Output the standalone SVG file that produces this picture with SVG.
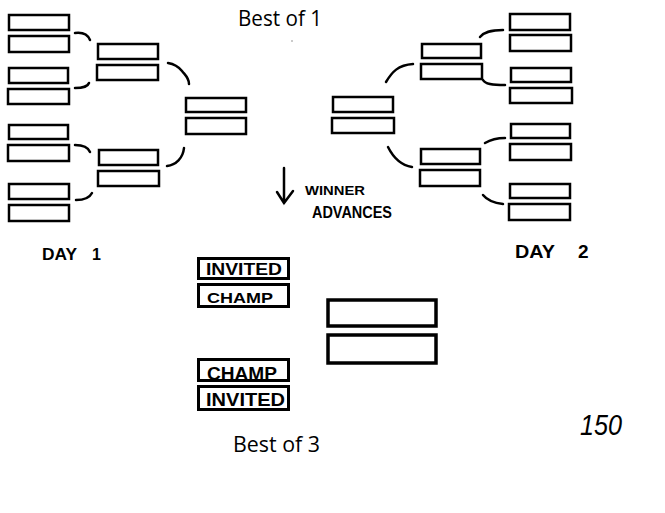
<svg xmlns="http://www.w3.org/2000/svg" width="665" height="513" viewBox="0 0 665 513">
<style>
.b{fill:#fff;stroke:#000;stroke-width:2.5}
.bb{fill:#fff;stroke:#000;stroke-width:3}
.big{fill:#fff;stroke:#000;stroke-width:3.5}
.c{fill:none;stroke:#000;stroke-width:2.5;stroke-linecap:round}
.t{font-family:"Open Sans","Liberation Sans",sans-serif;font-size:21px;fill:#000}
.h{font-family:"Liberation Sans",sans-serif;font-weight:bold;fill:#000}
</style>
<rect width="665" height="513" fill="#fff"/>
<g id="day1-round1">
<rect class="b" x="9" y="15" width="60" height="15"/>
<rect class="b" x="9" y="36" width="60" height="16"/>
<rect class="b" x="9" y="68" width="59" height="15"/>
<rect class="b" x="8" y="89" width="61" height="15"/>
<rect class="b" x="9" y="125" width="59" height="14"/>
<rect class="b" x="8" y="145" width="61" height="16"/>
<rect class="b" x="9" y="184" width="60" height="15"/>
<rect class="b" x="9" y="205" width="60" height="16"/>
</g>
<g id="day1-round2">
<rect class="b" x="98" y="44" width="60" height="15"/>
<rect class="b" x="97" y="65" width="61" height="15"/>
<rect class="b" x="99" y="150" width="59" height="15"/>
<rect class="b" x="98" y="171" width="61" height="15"/>
</g>
<g id="day1-final">
<rect class="b" x="186" y="98" width="60" height="14"/>
<rect class="b" x="186" y="118" width="60" height="16"/>
</g>
<g id="day2-round1">
<rect class="b" x="510" y="14" width="60" height="16"/>
<rect class="b" x="510" y="35" width="61" height="16"/>
<rect class="b" x="511" y="68" width="60" height="14"/>
<rect class="b" x="510" y="88" width="62" height="15"/>
<rect class="b" x="511" y="124" width="59" height="14"/>
<rect class="b" x="510" y="144" width="61" height="16"/>
<rect class="b" x="510" y="184" width="60" height="14"/>
<rect class="b" x="509" y="204" width="61" height="16"/>
</g>
<g id="day2-round2">
<rect class="b" x="422" y="44" width="59" height="14"/>
<rect class="b" x="421" y="64" width="61" height="15"/>
<rect class="b" x="421" y="149" width="59" height="15"/>
<rect class="b" x="420" y="170" width="60" height="16"/>
</g>
<g id="day2-final">
<rect class="b" x="333" y="97" width="60" height="15"/>
<rect class="b" x="332" y="118" width="62" height="15"/>
</g>
<g id="connectors">
<path class="c" d="M75,33 C83,32 88,35 90,40"/>
<path class="c" d="M75,88 C84,88 88,86 89,83"/>
<path class="c" d="M75,145 C83,145 88,147 90,152"/>
<path class="c" d="M76,200 C85,200 90,197 92,193"/>
<path class="c" d="M168,63 C174,64 178,66 182,71 C186,76 189,78 189,84"/>
<path class="c" d="M184,148 C183,158 176,165 167,166"/>
<path class="c" d="M480,37 C484,32 490,30 503,30"/>
<path class="c" d="M483,80 C485,84 492,85 505,85"/>
<path class="c" d="M485,143 C490,140 497,138 505,138"/>
<path class="c" d="M483,195 C487,200 494,203 503,204"/>
<path class="c" d="M386,82 C392,72 398,65 413,64"/>
<path class="c" d="M388,147 C393,157 400,165 412,167"/>
<path class="c" d="M284,168 L284,203 M277,192 L284,203 L293,191"/>
</g>
<g id="labels">
<text class="t" x="238" y="26" textLength="84" lengthAdjust="spacingAndGlyphs">Best of 1</text>
<circle cx="292" cy="41" r="0.8" fill="#888"/>
<text class="h" x="305" y="195" font-size="13" textLength="60" lengthAdjust="spacingAndGlyphs">WINNER</text>
<text class="h" x="312" y="218" font-size="16" textLength="80" lengthAdjust="spacingAndGlyphs">ADVANCES</text>
<text class="h" font-size="16" y="260"><tspan x="42" textLength="35" lengthAdjust="spacingAndGlyphs">DAY</tspan><tspan x="92">1</tspan></text>
<text class="h" font-size="19" y="258"><tspan x="515" textLength="40" lengthAdjust="spacingAndGlyphs">DAY</tspan><tspan x="578">2</tspan></text>
<text x="580" y="435" style="font-family:'Liberation Sans',sans-serif;font-size:29px;font-style:italic;font-weight:normal" textLength="42" lengthAdjust="spacingAndGlyphs">150</text>
<text class="t" x="233" y="452" textLength="87" lengthAdjust="spacingAndGlyphs">Best of 3</text>
</g>
<g id="bo3-upper">
<rect class="bb" x="198.5" y="258.5" width="90" height="20"/>
<text class="h" x="206" y="275" font-size="16" textLength="76" lengthAdjust="spacingAndGlyphs">INVITED</text>
<rect class="bb" x="198.5" y="284.5" width="90" height="22"/>
<text class="h" x="207" y="303" font-size="14" textLength="66" lengthAdjust="spacingAndGlyphs">CHAMP</text>
</g>
<g id="bo3-lower">
<rect class="bb" x="198.5" y="359.5" width="90" height="21"/>
<text class="h" x="207" y="380" font-size="18" textLength="70" lengthAdjust="spacingAndGlyphs">CHAMP</text>
<rect class="bb" x="198.5" y="386.5" width="90" height="23"/>
<text class="h" x="206" y="406" font-size="19" textLength="79" lengthAdjust="spacingAndGlyphs">INVITED</text>
</g>
<g id="bo3-final">
<rect class="big" x="328" y="300" width="108" height="26"/>
<rect class="big" x="328" y="335" width="108" height="28"/>
</g>
</svg>
